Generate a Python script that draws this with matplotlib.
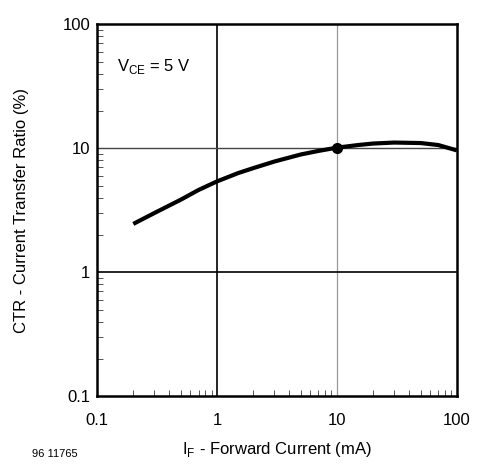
import numpy as np
from matplotlib import pyplot as plt
from matplotlib.ticker import LogLocator, NullFormatter, FixedLocator, FixedFormatter

plt.rcParams['font.family'] = ['Liberation Sans', 'DejaVu Sans']

# CTR curve
i_f = [0.2, 0.3, 0.5, 0.7, 1, 1.5, 2, 3, 5, 7, 10, 15, 20, 30, 50, 70, 100]
ctr = [2.45, 3.0, 3.85, 4.6, 5.4, 6.3, 6.9, 7.8, 8.9, 9.5, 10.1, 10.6, 10.9, 11.1, 11.0, 10.6, 9.6]
dot_x = [10]
dot_y = [10.1]
ticks = [0.1, 1, 10, 100]
tick_labels = ['0.1', '1', '10', '100']

fig = plt.figure(figsize=(4.86, 4.65), dpi=100)
ax = fig.add_axes([0.2, 0.148, 0.74, 0.8])
ax.set_xscale('log')
ax.set_yscale('log')
ax.set_xlim(0.1, 100)
ax.set_ylim(0.1, 100)

# grid lines
ax.axvline(1, color='k', lw=1.2)
ax.axvline(10, color='#999999', lw=0.9)
ax.axhline(1, color='k', lw=1.2)
ax.axhline(10, color='#444444', lw=1.0)

ax.plot(i_f, ctr, color='k', lw=3, solid_capstyle='butt')
ax.plot(dot_x, dot_y, 'o', color='k', ms=7)

for s in ax.spines.values():
    s.set_linewidth(1.8)

ax.xaxis.set_major_locator(FixedLocator(ticks))
ax.xaxis.set_major_formatter(FixedFormatter(tick_labels))
ax.yaxis.set_major_locator(FixedLocator(ticks))
ax.yaxis.set_major_formatter(FixedFormatter(tick_labels))
ax.xaxis.set_minor_locator(LogLocator(base=10, subs=np.arange(2, 10)))
ax.yaxis.set_minor_locator(LogLocator(base=10, subs=np.arange(2, 10)))
ax.xaxis.set_minor_formatter(NullFormatter())
ax.yaxis.set_minor_formatter(NullFormatter())
ax.tick_params(which='major', length=0, labelsize=12)
ax.tick_params(axis='x', which='major', pad=12)
ax.tick_params(axis='y', which='major', pad=5)
ax.tick_params(which='minor', direction='in', length=4, width=0.7, color='#555555')

ax.set_ylabel('CTR - Current Transfer Ratio (%)', fontsize=12, labelpad=24)
ax.set_xlabel('I$_\\mathregular{F}$ - Forward Current (mA)', fontsize=12, labelpad=9)
ax.text(0.055, 0.875, 'V$_\\mathregular{CE}$ = 5 V', transform=ax.transAxes, fontsize=12)
fig.text(0.065, 0.018, '96 11765', fontsize=8)

fig.savefig('out.png', dpi=100)
